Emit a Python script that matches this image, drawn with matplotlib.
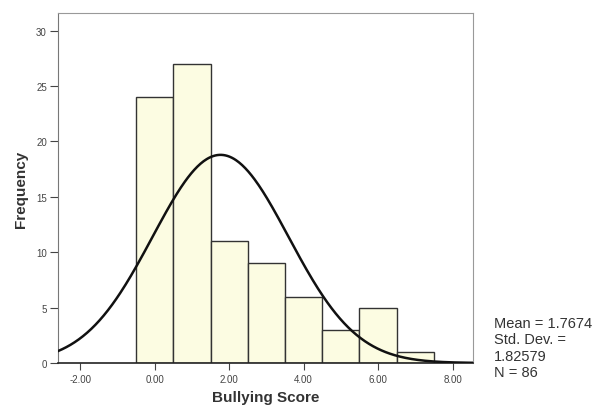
import numpy as np
import matplotlib.pyplot as plt

# Histogram of bullying scores (bin centres and counts)
bin_centers = [0, 1, 2, 3, 4, 5, 6, 7]
counts = [24, 27, 11, 9, 6, 3, 5, 1]
bin_width = 1.0

mean = 1.7674
std_dev = 1.82579
n_cases = 86

x_ticks = [-2, 0, 2, 4, 6, 8]
y_ticks = [0, 5, 10, 15, 20, 25, 30]

plt.rcParams['font.family'] = ['Liberation Sans', 'DejaVu Sans']

fig = plt.figure(figsize=(5.96, 4.10), dpi=100)
ax = fig.add_axes([0.0973, 0.1122, 0.6963, 0.8537])

ax.bar(bin_centers, counts, width=bin_width, color='#fcfce2',
       edgecolor='#333333', linewidth=1.0, zorder=2)

# fitted normal curve, scaled to frequencies
xs = np.linspace(-2.6, 8.55, 400)
curve = n_cases * bin_width / (std_dev * np.sqrt(2 * np.pi)) * \
    np.exp(-0.5 * ((xs - mean) / std_dev) ** 2)
ax.plot(xs, curve, color='#111111', linewidth=1.8, zorder=3)

ax.set_xlim(-2.6, 8.55)
ax.set_ylim(0, 31.6)
ax.set_xticks(x_ticks)
ax.set_xticklabels(['{:.2f}'.format(t) for t in x_ticks])
ax.set_yticks(y_ticks)

ax.tick_params(axis='both', labelsize=7, colors='#444444', width=0.8)
ax.tick_params(axis='y', length=6, pad=2)
ax.tick_params(axis='x', length=5, pad=3)
for side in ['top', 'right']:
    ax.spines[side].set_color('#999999')
ax.spines['left'].set_color('#777777')
ax.spines['bottom'].set_color('#222222')
ax.spines['bottom'].set_linewidth(1.2)

ax.set_xlabel('Bullying Score', fontsize=11, fontweight='bold', color='#333333', labelpad=4)
ax.set_ylabel('Frequency', fontsize=11, fontweight='bold', color='#333333', labelpad=6)

fig.text(0.829, 0.150, 'Mean = 1.7674\nStd. Dev. =\n1.82579\nN = 86',
         fontsize=10.5, color='#333333', va='center', ha='left', linespacing=1.2)

plt.savefig('out.png', dpi=100)
